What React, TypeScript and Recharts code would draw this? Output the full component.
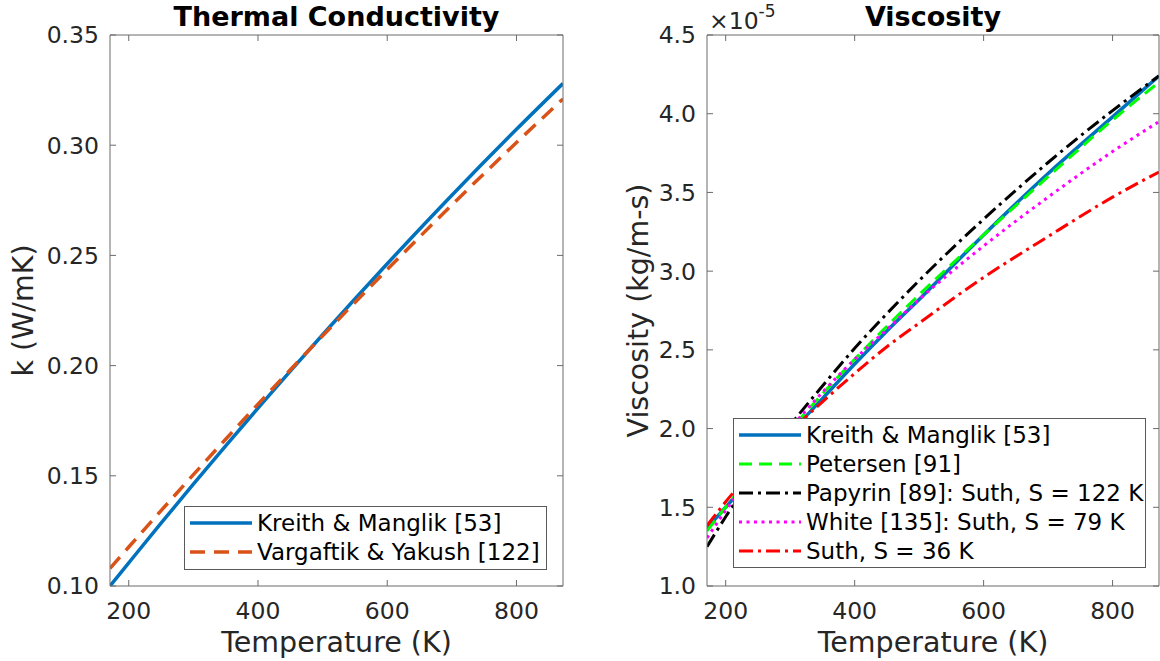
import React from 'react';
import { LineChart, Line, XAxis, YAxis, Legend } from 'recharts';

const FONT = '"DejaVu Sans", "Liberation Sans", sans-serif';
const INK = '#262626';
const FRAME = '#6b6b6b';
const TICK_LEN = 6;
const X_LABEL_GAP = 16;
const Y_LABEL_GAP = 11;

// Temperature grid shared by both panels (K)
const temperatureK = [171, 200, 250, 300, 350, 400, 450, 500, 600, 700, 800, 872];

// Thermal conductivity (W/mK)
const kKreithManglik = [0.1, 0.1105, 0.1285, 0.1462, 0.1636, 0.1807, 0.1975, 0.214, 0.2462, 0.2773, 0.3072, 0.328];
const kVargaftikYakush = [0.108, 0.1177, 0.1342, 0.1505, 0.1666, 0.1825, 0.1981, 0.2135, 0.2436, 0.2729, 0.3012, 0.321];

// Dynamic viscosity (kg/m-s)
const muKreithManglik = [1.37e-5, 1.5e-5, 1.74e-5, 1.97e-5, 2.19e-5, 2.41e-5, 2.62e-5, 2.82e-5, 3.23e-5, 3.62e-5, 3.98e-5, 4.24e-5];
const muPetersen = [1.35e-5, 1.5e-5, 1.75e-5, 1.99e-5, 2.22e-5, 2.44e-5, 2.65e-5, 2.85e-5, 3.23e-5, 3.6e-5, 3.96e-5, 4.2e-5];
const muPapyrin = [1.25e-5, 1.44e-5, 1.74e-5, 2.02e-5, 2.27e-5, 2.51e-5, 2.73e-5, 2.94e-5, 3.33e-5, 3.69e-5, 4.02e-5, 4.24e-5];
const muWhite = [1.305e-5, 1.48e-5, 1.75e-5, 2.0e-5, 2.23e-5, 2.44e-5, 2.63e-5, 2.82e-5, 3.16e-5, 3.47e-5, 3.76e-5, 3.95e-5];
const muSuth36 = [1.384e-5, 1.535e-5, 1.77e-5, 1.98e-5, 2.17e-5, 2.35e-5, 2.52e-5, 2.67e-5, 2.96e-5, 3.22e-5, 3.47e-5, 3.63e-5];

// Axis ticks
const temperatureTicks = [200, 400, 600, 800];
const temperatureDomain = [171, 872];
const kTicks = [0.1, 0.15, 0.2, 0.25, 0.3, 0.35];
const muTicks = [1.0e-5, 1.5e-5, 2.0e-5, 2.5e-5, 3.0e-5, 3.5e-5, 4.0e-5, 4.5e-5];

type SeriesStyle = { key: string; name: string; color: string; width: number; dash?: string };

const conductivitySeries: SeriesStyle[] = [
  { key: 'kreith', name: 'Kreith & Manglik [53]', color: '#0072BD', width: 3.5 },
  { key: 'vargaftik', name: 'Vargaftik & Yakush [122]', color: '#D95319', width: 3.5, dash: '15 9' },
];

const viscositySeries: SeriesStyle[] = [
  { key: 'kreith', name: 'Kreith & Manglik [53]', color: '#0072BD', width: 3.5 },
  { key: 'petersen', name: 'Petersen [91]', color: '#00FF00', width: 3, dash: '13 7' },
  { key: 'papyrin', name: 'Papyrin [89]: Suth, S = 122 K', color: '#000000', width: 3, dash: '14 5 3 5' },
  { key: 'white', name: 'White [135]: Suth, S = 79 K', color: '#FF00FF', width: 3, dash: '3 4.5' },
  { key: 'suth36', name: 'Suth, S = 36 K', color: '#FF0000', width: 3, dash: '14 5 3 5' },
];

const conductivityRows = temperatureK.map((T, i) => ({
  T,
  kreith: kKreithManglik[i],
  vargaftik: kVargaftikYakush[i],
}));

const viscosityRows = temperatureK.map((T, i) => ({
  T,
  kreith: muKreithManglik[i],
  petersen: muPetersen[i],
  papyrin: muPapyrin[i],
  white: muWhite[i],
  suth36: muSuth36[i],
}));

const tickTextStyle: React.CSSProperties = { fontFamily: FONT, fontSize: 23.5, fill: INK };
const labelTextStyle: React.CSSProperties = { fontFamily: FONT, fontSize: 28.5, fill: INK };

const fmtK = (v: number) => v.toFixed(2);
const fmtMu = (v: number) => (v / 1e-5).toFixed(1);
const fmtT = (v: number) => String(v);

// Ticks are drawn inward, MATLAB style, so each renderer draws its own tick mark.
const bottomTick = (fmt: (v: number) => string) => (props: any) => {
  const { x, y, payload } = props;
  const axisY = y - X_LABEL_GAP;
  return (
    <g>
      <line x1={x} x2={x} y1={axisY} y2={axisY - TICK_LEN} stroke={FRAME} strokeWidth={1} />
      <text x={x} y={y} dy="0.73em" textAnchor="middle" style={tickTextStyle}>
        {fmt(payload.value)}
      </text>
    </g>
  );
};

const leftTick = (fmt: (v: number) => string) => (props: any) => {
  const { x, y, payload } = props;
  const axisX = x + Y_LABEL_GAP;
  return (
    <g>
      <line x1={axisX} x2={axisX + TICK_LEN} y1={y} y2={y} stroke={FRAME} strokeWidth={1} />
      <text x={x} y={y} dy="0.36em" textAnchor="end" style={tickTextStyle}>
        {fmt(payload.value)}
      </text>
    </g>
  );
};

const topTick = (props: any) => {
  const { x, y } = props;
  return <line x1={x} x2={x} y1={y} y2={y + TICK_LEN} stroke={FRAME} strokeWidth={1} />;
};

const rightTick = (props: any) => {
  const { x, y } = props;
  return <line x1={x} x2={x - TICK_LEN} y1={y} y2={y} stroke={FRAME} strokeWidth={1} />;
};

const titleLabel = (text: string) => (props: any) => {
  const vb = props.viewBox || { x: 0, y: 0, width: 0, height: 0 };
  return (
    <text
      x={vb.x + vb.width / 2}
      y={vb.y + vb.height - 9}
      textAnchor="middle"
      style={{ fontFamily: FONT, fontSize: 27, fontWeight: 'bold', fill: '#000' }}
    >
      {text}
    </text>
  );
};

const xLabel = (text: string) => (props: any) => {
  const vb = props.viewBox || { x: 0, y: 0, width: 0, height: 0 };
  return (
    <text x={vb.x + vb.width / 2} y={vb.y + 66} textAnchor="middle" style={labelTextStyle}>
      {text}
    </text>
  );
};

const yLabel = (text: string, baselineX: number, exponent?: string) => (props: any) => {
  const vb = props.viewBox || { x: 0, y: 0, width: 0, height: 0 };
  const cy = vb.y + vb.height / 2;
  return (
    <g>
      <text
        transform={`translate(${vb.x + baselineX}, ${cy}) rotate(-90)`}
        textAnchor="middle"
        style={labelTextStyle}
      >
        {text}
      </text>
      {exponent && (
        <text x={vb.x + vb.width + 2} y={vb.y - 6} style={tickTextStyle}>
          ×10
          <tspan dy={-12} style={{ fontSize: 17 }}>
            {exponent}
          </tspan>
        </text>
      )}
    </g>
  );
};

// Legend rows follow the plotting order of the series.
const LegendBox = ({ payload, series, width }: { payload?: any[]; series: SeriesStyle[]; width: number }) => {
  const shown = new Set((payload || []).map((p) => p.dataKey));
  const entries = series.filter((s) => shown.has(s.key));
  return (
    <div
      style={{
        width,
        boxSizing: 'border-box',
        border: '1px solid #5a5a5a',
        background: '#fff',
        padding: '2px 0',
      }}
    >
      {entries.map((s) => (
        <div key={s.key} style={{ display: 'flex', alignItems: 'center', height: 28.8 }}>
          <svg width={62} height={12} style={{ marginLeft: 5, flex: 'none' }}>
            <line x1={0} x2={62} y1={6} y2={6} stroke={s.color} strokeWidth={s.width} strokeDasharray={s.dash} />
          </svg>
          <span
            style={{
              marginLeft: 5,
              fontFamily: FONT,
              fontSize: 23,
              color: '#000',
              whiteSpace: 'nowrap',
              lineHeight: '28px',
            }}
          >
            {s.name}
          </span>
        </div>
      ))}
    </div>
  );
};

export default function App() {
  return (
    <div
      style={{
        position: 'absolute',
        left: 0,
        top: 0,
        width: 1160,
        height: 661,
        background: '#fff',
        display: 'flex',
        overflow: 'hidden',
      }}
    >
      <LineChart width={580} height={661} data={conductivityRows} margin={{ top: 34, right: 16, bottom: 0, left: 0 }}>
        <XAxis
          xAxisId="b"
          dataKey="T"
          type="number"
          domain={temperatureDomain}
          ticks={temperatureTicks}
          interval={0}
          height={75}
          tickSize={0}
          tickMargin={X_LABEL_GAP}
          tickLine={false}
          stroke={FRAME}
          tick={bottomTick(fmtT)}
          label={xLabel('Temperature (K)')}
          allowDataOverflow
        />
        <XAxis
          xAxisId="t"
          orientation="top"
          dataKey="T"
          type="number"
          domain={temperatureDomain}
          ticks={temperatureTicks}
          interval={0}
          height={1}
          tickSize={0}
          tickMargin={0}
          tickLine={false}
          stroke={FRAME}
          tick={topTick}
          label={titleLabel('Thermal Conductivity')}
          allowDataOverflow
        />
        <YAxis
          yAxisId="l"
          type="number"
          domain={[0.1, 0.35]}
          ticks={kTicks}
          interval={0}
          width={110}
          tickSize={0}
          tickMargin={Y_LABEL_GAP}
          tickLine={false}
          stroke={FRAME}
          tick={leftTick(fmtK)}
          label={yLabel('k (W/mK)', 33)}
          allowDataOverflow
        />
        <YAxis
          yAxisId="r"
          orientation="right"
          type="number"
          domain={[0.1, 0.35]}
          ticks={kTicks}
          interval={0}
          width={1}
          tickSize={0}
          tickMargin={0}
          tickLine={false}
          stroke={FRAME}
          tick={rightTick}
          allowDataOverflow
        />
        {conductivitySeries.map((s) => (
          <Line
            key={s.key}
            xAxisId="b"
            yAxisId="l"
            dataKey={s.key}
            name={s.name}
            type="monotone"
            stroke={s.color}
            strokeWidth={s.width}
            strokeDasharray={s.dash}
            dot={false}
            activeDot={false}
            isAnimationActive={false}
          />
        ))}
        <Legend
          layout="horizontal"
          verticalAlign="middle"
          align="center"
          wrapperStyle={{ position: 'absolute', left: 184, top: 506, width: 363 }}
          content={(p: any) => <LegendBox payload={p.payload} series={conductivitySeries} width={363} />}
        />
      </LineChart>

      <LineChart width={580} height={661} data={viscosityRows} margin={{ top: 34, right: 0, bottom: 0, left: 0 }}>
        <XAxis
          xAxisId="b"
          dataKey="T"
          type="number"
          domain={temperatureDomain}
          ticks={temperatureTicks}
          interval={0}
          height={75}
          tickSize={0}
          tickMargin={X_LABEL_GAP}
          tickLine={false}
          stroke={FRAME}
          tick={bottomTick(fmtT)}
          label={xLabel('Temperature (K)')}
          allowDataOverflow
        />
        <XAxis
          xAxisId="t"
          orientation="top"
          dataKey="T"
          type="number"
          domain={temperatureDomain}
          ticks={temperatureTicks}
          interval={0}
          height={1}
          tickSize={0}
          tickMargin={0}
          tickLine={false}
          stroke={FRAME}
          tick={topTick}
          label={titleLabel('Viscosity')}
          allowDataOverflow
        />
        <YAxis
          yAxisId="l"
          type="number"
          domain={[1.0e-5, 4.5e-5]}
          ticks={muTicks}
          interval={0}
          width={127}
          tickSize={0}
          tickMargin={Y_LABEL_GAP}
          tickLine={false}
          stroke={FRAME}
          tick={leftTick(fmtMu)}
          label={yLabel('Viscosity (kg/m-s)', 68, '-5')}
          allowDataOverflow
        />
        <YAxis
          yAxisId="r"
          orientation="right"
          type="number"
          domain={[1.0e-5, 4.5e-5]}
          ticks={muTicks}
          interval={0}
          width={1}
          tickSize={0}
          tickMargin={0}
          tickLine={false}
          stroke={FRAME}
          tick={rightTick}
          allowDataOverflow
        />
        {viscositySeries.map((s) => (
          <Line
            key={s.key}
            xAxisId="b"
            yAxisId="l"
            dataKey={s.key}
            name={s.name}
            type="monotone"
            stroke={s.color}
            strokeWidth={s.width}
            strokeDasharray={s.dash}
            dot={false}
            activeDot={false}
            isAnimationActive={false}
          />
        ))}
        <Legend
          layout="horizontal"
          verticalAlign="middle"
          align="center"
          wrapperStyle={{ position: 'absolute', left: 153, top: 418, width: 413 }}
          content={(p: any) => <LegendBox payload={p.payload} series={viscositySeries} width={413} />}
        />
      </LineChart>
    </div>
  );
}
